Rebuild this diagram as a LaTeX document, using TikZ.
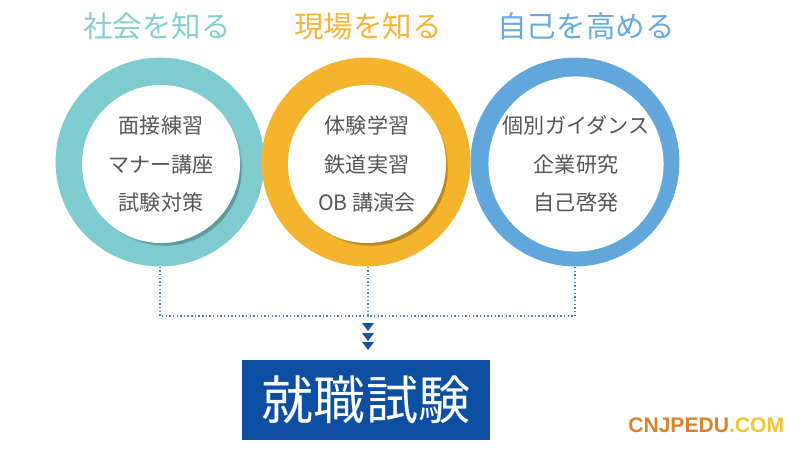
\documentclass[tikz,border=0pt]{standalone}
\usepackage{fontspec}
\setmainfont{Noto Sans CJK JP}
\newfontfamily\markfont{Liberation Sans}
\usepackage{tikz}
\usetikzlibrary{positioning,calc}
\definecolor{tealc}{RGB}{126,203,208}
\definecolor{orangec}{RGB}{245,180,46}
\definecolor{bluec}{RGB}{97,167,219}
\definecolor{tealt}{RGB}{134,206,212}
\definecolor{oranget}{RGB}{248,180,56}
\definecolor{bluet}{RGB}{104,170,222}
\definecolor{txtgray}{RGB}{85,85,85}
\definecolor{dotblue}{RGB}{74,128,196}
\definecolor{navyc}{RGB}{22,80,160}
\definecolor{boxblue}{RGB}{12,78,162}
\definecolor{markorange}{RGB}{217,130,45}
\definecolor{markyellow}{RGB}{244,195,48}

\tikzset{
  ring/.style={circle,fill=#1,minimum size=5.22cm,inner sep=0pt},
  hole/.style={circle,fill=white,minimum size=3.95cm,inner sep=0pt,align=center,
    text=txtgray,font=\fontsize{15}{27.5}\selectfont},
  title/.style={font=\fontsize{21}{24}\selectfont,text=#1},
  dotline/.style={dotblue,line width=1pt,dash pattern=on 1pt off 1.6pt},
}

\begin{document}
\begin{tikzpicture}[x=0.025cm,y=-0.025cm]
  \useasboundingbox (0,0) rectangle (800,448);
  % ---- titles ----
  \node[title=tealt] (t1) at (157,26) {社会を知る};
  \node[title=oranget] (t2) at (368,26) {現場を知る};
  \node[title=bluet] (t3) at (586,26) {自己を高める};
  % ---- rings ----
  \node[ring=tealc] (c1) at (160,162) {};
  \node[ring=orangec] (c2) at (366,162) {};
  \node[ring=bluec] (c3) at (575,162) {};
  % ---- shadows under the white discs ----
  \foreach \cx in {161,367,576}{
    \foreach \k in {1,...,7}{
      \fill[black,opacity=0.035] (\cx+1.5+\k*0.6,164+2+\k*0.7) circle ({2.0cm-\k*0.02cm});}}
  % ---- white discs ----
  \node[hole] (h1) at (161,164) {面接練習\\マナー講座\\試験対策};
  \node[hole] (h2) at (367,164) {体験学習\\鉄道実習\\OB 講演会};
  \node[hole] (h3) at (576,164) {個別ガイダンス\\企業研究\\自己啓発};
  % ---- dotted connectors ----
  \coordinate (j) at (368,316);
  \draw[dotline] (c1.south) |- (j) -| (c3.south);
  \draw[dotline] (c2.south -| j) -- (j);
  % ---- triple arrow ----
  \foreach \y in {327,337,346}{
    \fill[navyc] ($(j)+(-6,\y-316-4)$) -- ($(j)+(6,\y-316-4)$) -- ($(j)+(0,\y-316+4)$) -- cycle;}
  % ---- exam box ----
  \node[fill=boxblue,minimum width=6.2cm,minimum height=1.98cm,inner sep=0pt,
    text=white,font=\fontsize{37}{42}\selectfont] (exam) at (366,400) {就職試験};
  % ---- watermark ----
  \node[anchor=west,font=\markfont\bfseries\fontsize{15}{17}\selectfont,inner sep=0pt] (mark) at (628,425)
    {\textcolor{markorange}{CNJPEDU}\textcolor{markyellow}{.COM}};
\end{tikzpicture}
\end{document}
